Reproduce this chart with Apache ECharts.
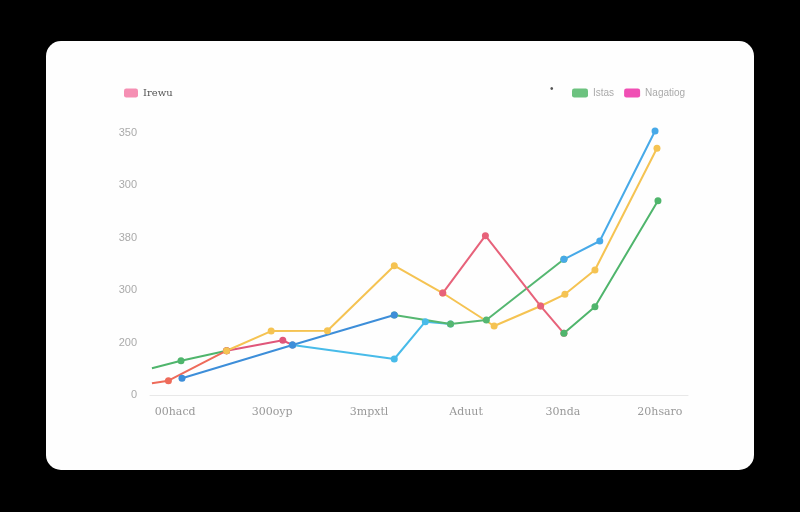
<!DOCTYPE html>
<html>
<head>
<meta charset="utf-8">
<script src="https://cdn.jsdelivr.net/npm/echarts@6/dist/echarts.min.js"></script>
<style>
html,body{margin:0;padding:0;background:#000;}
#c{width:800px;height:512px;}
</style>
</head>
<body>
<div id="c"></div>
<script>
// ---- data ----
var xLabels = ['00hacd', '300oyp', '3mpxtl', 'Aduut', '30nda', '20hsaro'];
var yTickLabels = ['0', '200', '300', '380', '300', '350'];
var legendLeft = ['Irewu'];
var legendRight = ['Istas', 'Nagatiog'];

// x in category-label units (0 = first label), y in axis units
var greenA = [[-0.24, 51], [0.06, 65.5], [0.53, 84.5]];
var redA = [[-0.24, 22.3], [-0.07, 27.3], [0.53, 84.5]];
var pinkA = [[0.53, 84.5], [1.11, 104.4], [1.21, 95.4]];
var yellow = [[0.53, 84.5], [0.99, 122], [1.57, 122.7], [2.26, 246.7], [2.76, 194.6], [3.29, 131.7], [3.77, 169.8], [4.02, 192.2], [4.33, 238.5], [4.97, 470.8]];
var lightBlue = [[1.21, 95.4], [2.26, 68.7], [2.58, 139.9], [2.84, 135.5]];
var greenB = [[2.26, 152.7], [2.84, 135.5], [3.21, 143.1], [4.01, 259]];
var redB = [[2.76, 194.6], [3.20, 304], [3.77, 169.8], [4.01, 117.7]];
var greenC = [[4.01, 117.7], [4.33, 168.5], [4.98, 370.8]];
var blueA = [[0.07, 31.9], [1.21, 95.4], [2.26, 152.7]];
var blueB = [[4.01, 259], [4.38, 293.9], [4.95, 503.8]];

// ---- chart ----
var chart = echarts.init(document.getElementById('c'), null, {renderer: 'canvas'});

function mk(name, data, color) {
  return {
    type: 'line',
    name: name,
    data: data,
    clip: false,
    symbol: 'circle',
    symbolSize: function (v) { return v[0] < -0.1 ? 0 : 7; },
    lineStyle: {color: color, width: 2},
    itemStyle: {color: color},
    emphasis: {disabled: true},
    animation: false
  };
}

var option = {
  backgroundColor: '#000',
  animation: false,
  graphic: [
    {type: 'rect', shape: {x: 46, y: 41, width: 708, height: 429, r: 15}, style: {fill: '#fefefe'}, z: -10},
    {type: 'text', left: 550, top: 84, style: {text: '•', fill: '#555', fontSize: 10}}
  ],
  legend: [
    {
      left: 119, top: 83, icon: 'roundRect', itemWidth: 14, itemHeight: 9, itemGap: 12,
      textStyle: {color: '#555', fontSize: 10, fontFamily: 'DejaVu Serif'},
      data: [{name: legendLeft[0], itemStyle: {color: '#f58fb3'}}]
    },
    {
      left: 567, top: 83, icon: 'roundRect', itemWidth: 16, itemHeight: 9, itemGap: 10,
      textStyle: {color: '#aaa', fontSize: 10},
      data: [
        {name: legendRight[0], itemStyle: {color: '#6cc27f'}},
        {name: legendRight[1], itemStyle: {color: '#f04fb4'}}
      ]
    }
  ],
  grid: {left: 150, right: 112, top: 133, bottom: 117, containLabel: false},
  xAxis: {
    type: 'value', min: -0.26, max: 5.29,
    axisLine: {show: true, lineStyle: {color: '#e8e8e8', width: 1}},
    axisTick: {show: false},
    splitLine: {show: false},
    axisLabel: {
      customValues: [0, 1, 2, 3, 4, 5],
      formatter: function (v) { return xLabels[Math.round(v)]; },
      color: '#999', fontSize: 11, margin: 12, fontFamily: 'DejaVu Serif'
    }
  },
  yAxis: {
    type: 'value', min: 0, max: 500, interval: 100,
    axisLine: {show: false},
    axisTick: {show: false},
    splitLine: {show: false},
    axisLabel: {
      formatter: function (v) { return yTickLabels[Math.round(v / 100)]; },
      color: '#aaa', fontSize: 11, margin: 13
    }
  },
  series: [
    mk(legendRight[0], greenA, '#4fb56c'),
    mk('r1', redA, '#ee6b5a'),
    mk(legendLeft[0], pinkA, '#e0567a'),
    mk('y1', yellow, '#f5c352'),
    mk('lb', lightBlue, '#48bbe9'),
    mk(legendRight[0], greenB, '#55b771'),
    mk(legendRight[1], redB, '#e7627a'),
    mk(legendRight[0], greenC, '#4fb56c'),
    mk('b1', blueA, '#3d8ed9'),
    mk('b2', blueB, '#47a9e8')
  ]
};
chart.setOption(option);
</script>
</body>
</html>
